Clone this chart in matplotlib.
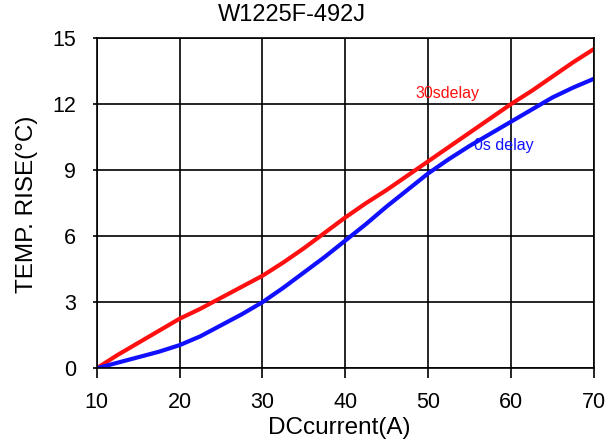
import numpy as np
import matplotlib
matplotlib.use('Agg')
import matplotlib.pyplot as plt

plt.rcParams['font.family'] = ['Liberation Sans', 'DejaVu Sans']

# DC current (A)
current = [10, 12.5, 15, 17.5, 20, 22.5, 25, 27.5, 30, 32.5, 35, 37.5, 40,
           42.5, 45, 47.5, 50, 52.5, 55, 57.5, 60, 62.5, 65, 67.5, 70]
# temperature rise, 30 s delay
rise30 = [0.0, 0.6, 1.15, 1.7, 2.25, 2.7, 3.2, 3.7, 4.2, 4.8, 5.45, 6.15, 6.85,
          7.5, 8.1, 8.75, 9.4, 10.05, 10.7, 11.35, 12.0, 12.6, 13.25, 13.9, 14.5]
# temperature rise, 0 s delay
rise0 = [0.0, 0.25, 0.5, 0.75, 1.05, 1.45, 1.95, 2.45, 3.0, 3.65, 4.35, 5.05, 5.8,
         6.55, 7.35, 8.1, 8.85, 9.5, 10.1, 10.65, 11.2, 11.75, 12.3, 12.75, 13.15]

xticks = [10, 20, 30, 40, 50, 60, 70]
yticks = [0, 3, 6, 9, 12, 15]

fig = plt.figure(figsize=(6.16, 4.48), dpi=100)
ax = fig.add_axes([0.157, 0.178, 0.807, 0.737])

ax.plot(current, rise30, color='#ff1010', lw=3)
ax.plot(current, rise0, color='#1010ff', lw=3)

ax.set_xlim(10, 70)
ax.set_ylim(0, 15)
ax.set_xticks(xticks)
ax.set_yticks(yticks)
ax.grid(True, color='black', lw=1.2)
ax.set_axisbelow(True)
for s in ax.spines.values():
    s.set_linewidth(1.2)
ax.tick_params(axis='x', direction='out', length=7, width=1.2, labelsize=15.5, pad=10)
ax.tick_params(axis='y', direction='out', length=3, width=1.2, labelsize=15.5, pad=12)

ax.text(48.5, 12.5, '30sdelay', color='#ff1010', fontsize=11.5,
        ha='left', va='center')
ax.text(55.5, 10.1, '0s delay', color='#1010ff', fontsize=11.5,
        ha='left', va='center')

# title and axis titles placed in figure coordinates
fig.text(0.474, 0.966, 'W1225F-492J', fontsize=17, ha='center', va='center')
fig.text(0.550, 0.045, 'DCcurrent(A)', fontsize=17.5, ha='center', va='center')
fig.text(0.044, 0.545, 'TEMP. RISE(\u00b0C)', fontsize=17.5, rotation=90,
         ha='center', va='center')

fig.savefig('out.png', dpi=100)
